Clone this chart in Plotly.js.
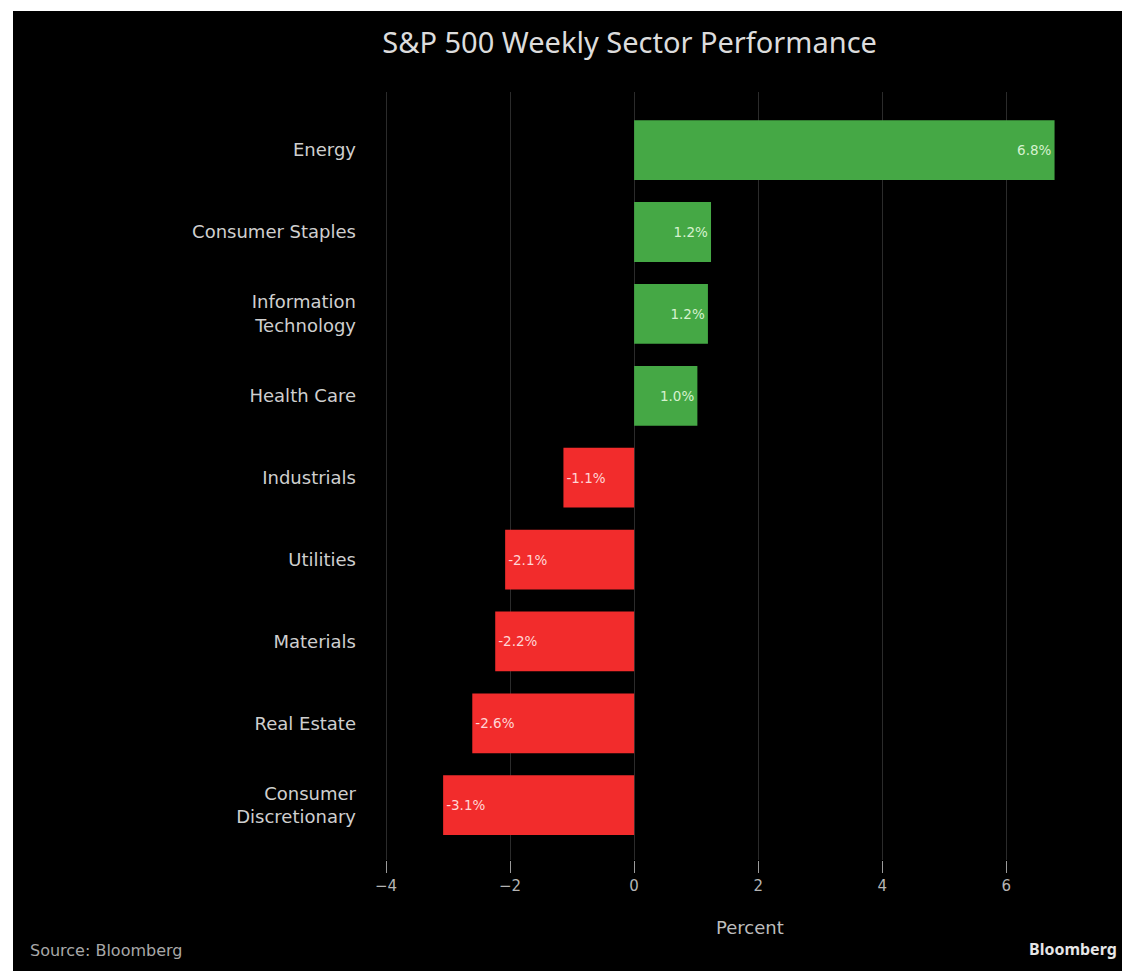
<!DOCTYPE html>
<html>
<head>
<meta charset="utf-8">
<script src="https://cdn.plot.ly/plotly-3.0.1.min.js"></script>
<style>
  html, body { margin: 0; padding: 0; background: #ffffff; width: 1122px; height: 971px; overflow: hidden; }
  #chart { position: absolute; left: 13px; top: 11px; width: 1109px; height: 960px; }
</style>
</head>
<body>
<div id="chart"></div>
<script>
const sectors = ["Energy", "Consumer Staples", "Information<br>Technology", "Health Care", "Industrials", "Utilities", "Materials", "Real Estate", "Consumer<br>Discretionary"];
const weeklyChange = [6.78, 1.24, 1.19, 1.02, -1.14, -2.08, -2.24, -2.61, -3.08];
const xTicks = [-4, -2, 0, 2, 4, 6];
const xTickLabels = ["\u22124", "\u22122", "0", "2", "4", "6"];

const GREEN = "#45a845";
const RED = "#f22c2c";
const FONT = "DejaVu Sans";

const trace = {
  type: "bar",
  orientation: "h",
  x: weeklyChange,
  y: sectors,
  marker: { color: weeklyChange.map(v => v >= 0 ? GREEN : RED), line: { width: 0 } },
  texttemplate: "%{x:.1f}%",
  textposition: "inside",
  insidetextanchor: "end",
  textangle: 0,
  textfont: { family: FONT, size: 13.5, color: weeklyChange.map(v => v >= 0 ? "#d6f2cf" : "#ffd6d6") },
  hoverinfo: "none",
  cliponaxis: false
};

const layout = {
  width: 1109,
  height: 960,
  paper_bgcolor: "#000000",
  plot_bgcolor: "#000000",
  margin: { l: 352, r: 60, t: 81, b: 111 },
  showlegend: false,
  bargap: 0.27,
  title: {
    text: "S&P 500 Weekly Sector Performance",
    font: { family: "Noto Sans", size: 29, color: "#dcdcdc" },
    x: 0.556, xanchor: "center", xref: "container",
    y: 0.967, yanchor: "middle", yref: "container"
  },
  xaxis: {
    range: [-4.34, 6.9],
    tickvals: xTicks,
    ticktext: xTickLabels,
    showgrid: true,
    gridcolor: "#2b2b2b",
    gridwidth: 1,
    zeroline: false,
    showline: false,
    ticks: "outside",
    ticklen: 12,
    tickwidth: 1,
    tickcolor: "#9a9a9a",
    tickfont: { family: FONT, size: 15, color: "#b4b4b4" },
    fixedrange: true
  },
  yaxis: {
    type: "category",
    range: [8.67, -0.71],
    showgrid: false,
    zeroline: false,
    showline: false,
    ticks: "",
    ticklabelstandoff: 8,
    tickfont: { family: FONT, size: 18, color: "#cfcfcf" },
    fixedrange: true
  },
  annotations: [
    { text: "Percent", xref: "paper", yref: "paper", x: 0.553, y: -0.088, xanchor: "center", yanchor: "middle", showarrow: false,
      font: { family: FONT, size: 18, color: "#bdbdbd" } },
    { text: "Source: Bloomberg", xref: "paper", yref: "paper", x: -0.483, y: -0.118, xanchor: "left", yanchor: "middle", showarrow: false,
      font: { family: FONT, size: 16, color: "#a8a8a8" } },
    { text: "<b>Bloomberg</b>", xref: "paper", yref: "paper", x: 1.082, y: -0.116, xanchor: "right", yanchor: "middle", showarrow: false,
      font: { family: "Noto Sans", size: 16, color: "#e6e6e6" } }
  ]
};

Plotly.newPlot("chart", [trace], layout, { displayModeBar: false, staticPlot: true });
</script>
</body>
</html>
